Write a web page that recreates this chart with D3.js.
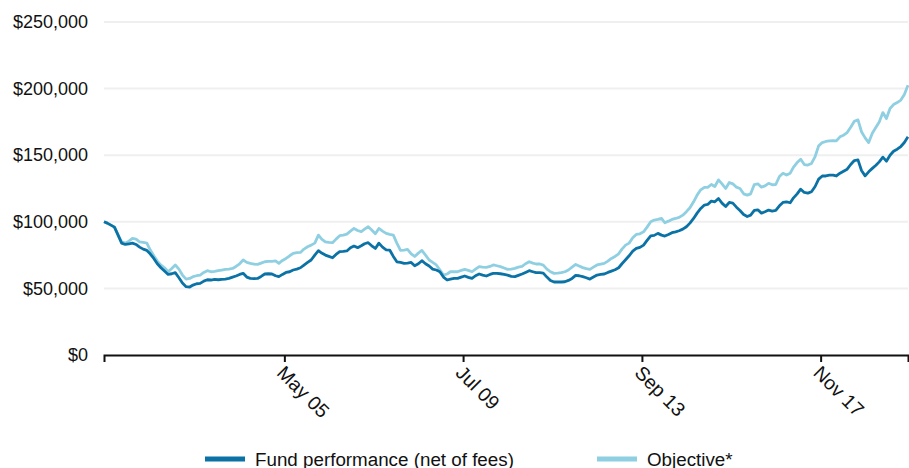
<!DOCTYPE html>
<html>
<head>
<meta charset="utf-8">
<script src="https://cdn.jsdelivr.net/npm/d3@7"></script>
<style>
  html, body { margin: 0; padding: 0; background: #fff; }
  svg { display: block; font-family: "Liberation Sans", Arial, sans-serif; }
</style>
</head>
<body>
<svg id="chart" width="909" height="468"></svg>
<script>
// ---- data (values in $ thousands, monthly series Feb 2001 .. Nov 2019) ----
const startMonth = "2001-02-15";
const fundValues = [
100,99,97.5,96,90,84,83,83.5,84,83,81,79.5,78.5,76,72.5,68.5,65.5,63,60.5,61,
61.8,58,54,51.3,51,52.5,53.5,53.8,55.5,56.5,56.3,56.8,56.5,56.8,57,57.5,58.5,59.3,60.5,61.3,
58.5,57.5,57.3,57.5,59,60.8,61,60.8,59.5,58.8,60.5,62,62.5,63.8,64.5,65.5,67.5,69.5,71.3,75,
78.3,76.5,75,74,73,75.5,77.6,77.8,78.1,80.5,81.8,80.6,82,83.5,84.3,82,80,84,81,79,
78.8,74,70,69.5,68.8,69,69.5,67,68.5,70.8,68.5,66.8,64.5,63.8,62.5,58.5,56.3,57,57.5,57.5,
58.5,59.3,58.3,57.5,59.5,60.8,60,59.3,60.5,61.3,61.3,61,60.5,60,59,58.8,59.8,60.8,62,63.3,
62.5,61.8,61.8,61.5,58.5,56,54.8,54.8,54.8,55,56,57.5,59.8,59.5,58.8,58,57,58.5,60,60.5,
60.8,62,63,64,65.5,68.5,71.5,74.5,78,80,80.8,82.5,86,89.5,89.8,91.3,90,89.3,90.5,91.8,
92.5,93.3,94.5,96.3,99,102.5,106.5,110,112.6,113,115.5,115,117.5,114,111.5,114.5,114,111,108.5,105.5,
104,105,108.5,109,106.5,107.5,108.8,108,108.5,112,114.5,115,114.3,118,121,124.5,122,121.5,122.6,126.5,
132,134.4,134.4,135,135,134.4,136.5,138,139.5,143,146,146.5,138.5,134.5,137.5,140.1,142.5,145,148.5,145.5,
150,153,154.5,156.5,159.5,163.8
];
const objectiveValues = [
100,99,97.5,96,90,85,84,85.5,87.5,87,85,84.5,84,79,74.5,70.5,67.5,65.5,62.5,65,
67.6,64.5,60,57,57.5,58.8,59.5,60,62,63.3,62.5,62.8,63.3,63.8,64.3,64.5,65,66.5,68.5,71.3,
69.5,68.8,68.3,68,69,70,70.3,70.3,70.6,68.8,71,72.5,74.5,76.3,76.8,77,79.5,81.3,82.5,84,
90,87,85,84.5,84.3,87,89.6,90,90.8,93,95,93.5,92.6,94.5,96.3,93.8,91,95,93,91.3,
90.5,90,84,78.5,78.8,79.3,76,74,76.5,78.5,75,71.3,69.5,67.6,64,60,60.8,62.5,62.5,62.5,
63.5,64.3,63.5,62.5,64.5,66.3,66,65.8,66.5,67.6,67,66.3,65.3,64.3,64.5,65,66,66.5,68.5,70,
69,68.3,68.3,67.5,64.5,62.5,61.3,61.5,61.8,62.5,63.8,66,68,66.8,65.6,64.8,64.3,66,67.6,68.3,
68.8,70.5,72.5,74,76,79.5,82.5,84,88,90.5,91,92.5,96,100,101.3,101.8,102.6,99.3,100.5,101.8,
102.5,103.3,105,107.6,110.5,115,120,124,125.9,125.9,128,126.5,131.5,128.5,125,129.5,128.5,126,125,121,
120,121,128,128.5,126,127,128.9,127.8,128,134,136.4,135.1,136.5,141,144.5,147,143,142.6,143.8,149,
157,159.5,160.3,160.8,161,160.8,163.8,165,167,171,175.5,176.5,167.6,163,159.5,166.5,171,175,182,177.5,
185.1,188,189.5,191.4,195.5,202.6
];
const yTicks = [0, 50000, 100000, 150000, 200000, 250000];
const xTickDates = ["2005-05-01", "2009-07-01", "2013-09-01", "2017-11-01"];
const seriesNames = ["Fund performance (net of fees)", "Objective*"];
const seriesColors = ["#0b72a6", "#8ecfe1"];

// ---- build ----
const parse = d3.timeParse("%Y-%m-%d");
const start = parse(startMonth);
const dates = fundValues.map((_, i) => d3.timeMonth.offset(start, i));
const series = [fundValues, objectiveValues].map((vals, k) => ({
  name: seriesNames[k], color: seriesColors[k],
  points: vals.map((v, i) => ({ date: dates[i], value: v * 1000 }))
}));

const svg = d3.select("#chart");
const margin = { left: 104, right: 1, top: 22, bottom: 113 };
const W = 909, H = 468;
const x = d3.scaleTime().domain(d3.extent(dates)).range([margin.left, W - margin.right]);
const y = d3.scaleLinear().domain([0, 250000]).range([H - margin.bottom, margin.top]);
const FONT = "Liberation Sans, Arial, sans-serif";

// gridlines
svg.append("g").selectAll("line").data(yTicks.filter(d => d > 0)).join("line")
  .attr("x1", margin.left).attr("x2", W - margin.right)
  .attr("y1", d => y(d)).attr("y2", d => y(d))
  .attr("stroke", "#efefef").attr("stroke-width", 2);

// y labels
const fmt = d3.format("$,");
svg.append("g").attr("transform", `translate(${margin.left},0)`)
  .call(d3.axisLeft(y).tickValues(yTicks).tickSize(0).tickPadding(16).tickFormat(d => fmt(d)))
  .call(g => g.select(".domain").remove())
  .call(g => g.selectAll("text").attr("font-size", 18).attr("fill", "#111")
    .attr("font-family", FONT));

// lines
const line = d3.line().x(d => x(d.date)).y(d => y(d.value));
svg.append("g").selectAll("path").data(series.slice().reverse()).join("path")
  .attr("d", d => line(d.points))
  .attr("fill", "none").attr("stroke", d => d.color)
  .attr("stroke-width", 2.8).attr("stroke-linejoin", "round");

// x axis
const xAxis = svg.append("g").attr("transform", `translate(0,${y(0)})`)
  .call(d3.axisBottom(x).tickValues(xTickDates.map(parse)).tickSize(7).tickSizeOuter(7)
    .tickFormat(d3.timeFormat("%b %y")));
xAxis.select(".domain").attr("stroke", "#111").attr("stroke-width", 2);
xAxis.selectAll(".tick line").attr("stroke", "#111").attr("stroke-width", 2);
xAxis.selectAll(".tick text")
  .attr("font-size", 19.5).attr("fill", "#111")
  .attr("font-family", FONT)
  .attr("text-anchor", "start")
  .attr("x", 0).attr("y", 0).attr("dy", 0)
  .attr("transform", "translate(-9,19) rotate(45)");

// legend
const legendX = [205, 597];
const lg = svg.append("g").selectAll("g").data(series).join("g")
  .attr("transform", (d, i) => `translate(${legendX[i]},459)`);
lg.append("rect").attr("x", 0).attr("y", -2.5).attr("width", 40).attr("height", 5).attr("fill", d => d.color);
lg.append("text").attr("x", 50).attr("y", 6.5).attr("font-size", 18.8).attr("fill", "#111")
  .attr("font-family", FONT).text(d => d.name);
</script>
</body>
</html>
